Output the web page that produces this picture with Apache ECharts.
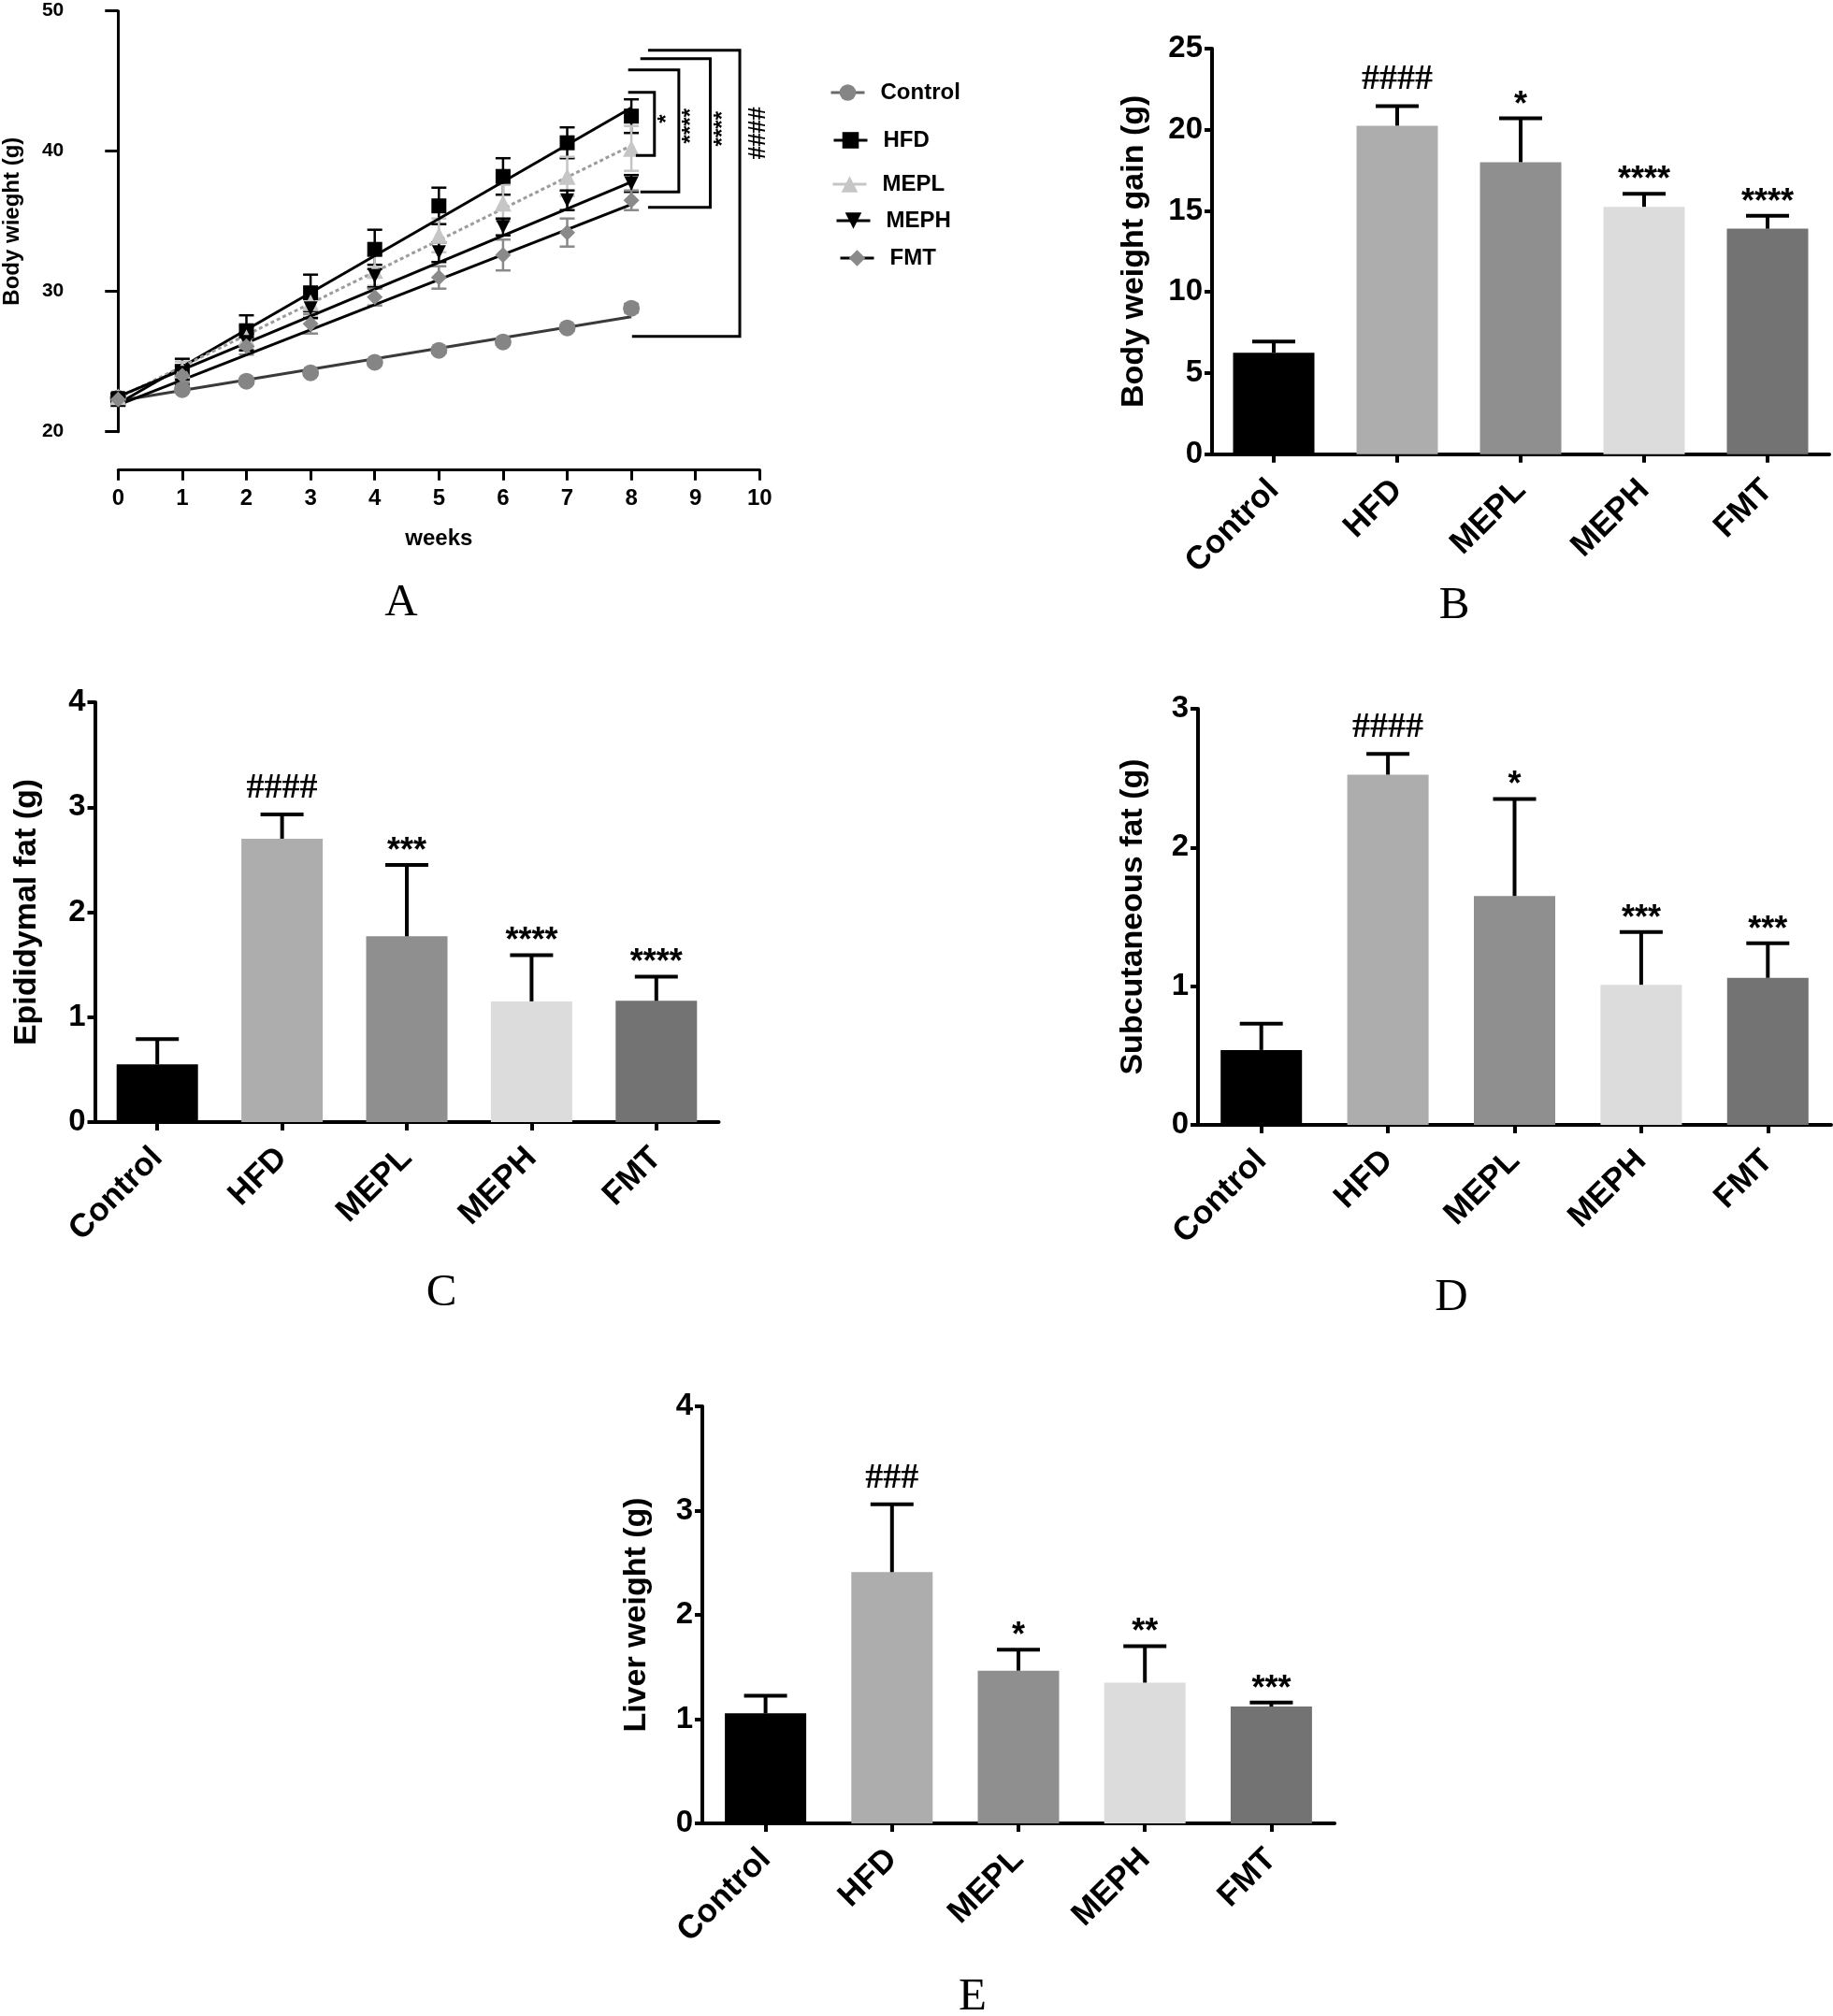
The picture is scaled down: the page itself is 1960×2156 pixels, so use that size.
<!DOCTYPE html>
<html><head><meta charset="utf-8">
<script src="https://cdn.jsdelivr.net/npm/echarts@6/dist/echarts.min.js"></script>
<style>html,body{margin:0;padding:0;background:#fff}#c{width:1960px;height:2156px}</style>
</head><body><div id="c"></div>
<script>
// ---------- Panel A : body weight over weeks ----------
const weeks    = [0, 1, 2, 3, 4, 5, 6, 7, 8];
const ctrlMean = [22.4, 23.0, 23.6, 24.2, 24.95, 25.8, 26.4, 27.4, 28.8];
const ctrlErr  = [0.2, 0.2, 0.2, 0.2, 0.2, 0.2, 0.2, 0.2, 0.3];
const hfdMean  = [22.3, 24.3, 27.2, 29.9, 33.0, 36.1, 38.2, 40.6, 42.5];
const hfdErr   = [0.3, 0.9, 1.1, 1.3, 1.4, 1.3, 1.3, 1.1, 1.2];
const meplMean = [22.5, 24.4, 26.7, 29.2, 31.5, 34.0, 36.3, 38.2, 40.2];
const meplErr  = [0.3, 0.6, 0.8, 1.0, 1.1, 1.2, 1.3, 1.4, 1.6];
const mephMean = [22.4, 24.2, 26.4, 28.8, 31.1, 32.8, 34.6, 36.5, 37.7];
const mephErr  = [0.3, 0.5, 0.6, 0.7, 0.8, 0.7, 0.6, 0.7, 0.6];
const fmtMean  = [22.3, 24.0, 26.1, 27.7, 29.6, 31.0, 32.6, 34.2, 36.5];
const fmtErr   = [0.3, 0.5, 0.6, 0.7, 0.6, 0.8, 1.1, 1.0, 0.7];
// fitted trend lines, read at week 0 and week 8
const fitWeeks = [0, 8];
const ctrlFit  = [22.2, 28.2];
const hfdFit   = [22.0, 43.1];
const meplFit  = [22.4, 40.4];
const mephFit  = [22.5, 37.8];
const fmtFit   = [21.9, 36.2];
// significance brackets at week 8 (week / body-weight units)
const bracketTopStart    = [7.95, 7.95, 8.14, 8.26];
const bracketX           = [8.36, 8.74, 9.23, 9.69];
const bracketTop         = [44.2, 45.8, 46.6, 47.2];
const bracketBottom      = [39.7, 37.1, 36.0, 26.8];
const bracketBottomStart = [8.07, 8.14, 8.26, 8.01];
const bracketLabel       = ['*', '****', '****', '####'];
const bracketLabelY      = [42.3, 41.8, 41.6, 41.3];
const weekTicks = [0, 10, 1];      // min, max, step
const bwTicks   = [20, 50, 10];

// ---------- Panels B-E : bar charts ----------
const groups   = ['Control', 'HFD', 'MEPL', 'MEPH', 'FMT'];
const gainMean = [6.25, 20.25, 18.0, 15.25, 13.9];
const gainErr  = [0.7, 1.2, 2.7, 0.8, 0.8];
const gainSig  = ['', '####', '*', '****', '****'];
const epiMean  = [0.55, 2.70, 1.77, 1.15, 1.155];
const epiErr   = [0.24, 0.23, 0.68, 0.44, 0.23];
const epiSig   = ['', '####', '***', '****', '****'];
const subMean  = [0.54, 2.525, 1.65, 1.01, 1.06];
const subErr   = [0.19, 0.15, 0.70, 0.38, 0.25];
const subSig   = ['', '####', '*', '***', '***'];
const livMean  = [1.055, 2.41, 1.465, 1.35, 1.12];
const livErr   = [0.17, 0.65, 0.20, 0.35, 0.04];
const livSig   = ['', '###', '*', '**', '***'];
const gainTicks = [0, 25, 5];
const epiTicks  = [0, 4, 1];
const subTicks  = [0, 3, 1];
const livTicks  = [0, 4, 1];

// ---------- styles ----------
const SANS = '"Liberation Sans", Arial, sans-serif';
const SERIF = '"Liberation Serif", "Times New Roman", serif';
const barColors = ['#000000', '#adadad', '#8f8f8f', '#dcdcdc', '#737373'];
const INV_TRI = 'path://M0,0 L10,0 L5,10 Z';

const chart = echarts.init(document.getElementById('c'), null, {renderer: 'canvas'});

const grids = [
  {left: 126.3, top: 11.7, width: 686, height: 450},
  {left: 1296, top: 52, width: 660, height: 433.7},
  {left: 101.5, top: 751, width: 667, height: 449},
  {left: 1281, top: 758, width: 677, height: 445},
  {left: 751, top: 1504, width: 676, height: 446}
];

function barX(gi) {
  return {type: 'category', gridIndex: gi, data: groups, boundaryGap: true,
    axisLine: {show: true, lineStyle: {color: '#000', width: 4}},
    axisTick: {show: true, alignWithLabel: true, interval: 0, length: 9, lineStyle: {color: '#000', width: 4}},
    axisLabel: {rotate: 45, interval: 0, margin: 33, fontSize: 35, fontWeight: 'bold', fontFamily: SANS, color: '#000'},
    splitLine: {show: false}};
}
function barY(gi, ticks, name, gap) {
  return {type: 'value', gridIndex: gi, min: ticks[0], max: ticks[1], interval: ticks[2],
    name: name, nameLocation: 'middle', nameGap: gap,
    nameTextStyle: {fontSize: 34, fontWeight: 'bold', fontFamily: SANS, color: '#000'},
    axisLine: {show: true, lineStyle: {color: '#000', width: 4}},
    axisTick: {show: true, length: 8, lineStyle: {color: '#000', width: 4}},
    axisLabel: {margin: 10, fontSize: 33, fontWeight: 'bold', fontFamily: SANS, color: '#000'},
    splitLine: {show: false}};
}
function barSeries(gi, mean) {
  return {type: 'bar', xAxisIndex: gi, yAxisIndex: gi, barWidth: 87, z: 2,
    data: mean.map((v, i) => ({value: v, itemStyle: {color: barColors[i]}}))};
}
function barErrSeries(gi, mean, err, sig) {
  return {type: 'custom', xAxisIndex: gi, yAxisIndex: gi, z: 5,
    data: mean.map((m, i) => [i, m, err[i]]),
    renderItem: (params, api) => {
      const i = api.value(0), m = api.value(1), e = api.value(2);
      const b = api.coord([i, m]), t = api.coord([i, m + e]);
      const s = sig[params.dataIndex];
      const st = {stroke: '#000', lineWidth: 4};
      const ch = [
        {type: 'line', shape: {x1: b[0], y1: b[1], x2: t[0], y2: t[1]}, style: st},
        {type: 'line', shape: {x1: t[0] - 23, y1: t[1], x2: t[0] + 23, y2: t[1]}, style: st}
      ];
      if (s) {
        const hash = s[0] === '#';
        ch.push({type: 'text', x: t[0], y: t[1] - (hash ? 28 : 14),
          style: {text: s, align: 'center', verticalAlign: 'middle', fontSize: hash ? 38 : 36,
            fontFamily: hash ? SERIF : SANS, fontWeight: 'bold', fill: '#000'}});
      }
      return {type: 'group', children: ch};
    }};
}

// line-chart helpers
function markerSeries(name, mean, symbol, size, color, lineColor) {
  return {type: 'line', name: name, xAxisIndex: 0, yAxisIndex: 0, z: 6,
    data: weeks.map((w, i) => [w, mean[i]]),
    symbol: symbol, symbolSize: size, showAllSymbol: true,
    itemStyle: {color: color, borderWidth: 0},
    lineStyle: {color: lineColor, width: 3, opacity: 0},
    emphasis: {disabled: true}};
}
function fitSeries(fit, color, type) {
  return {type: 'line', xAxisIndex: 0, yAxisIndex: 0, z: 4, showSymbol: false, symbol: 'none',
    data: fitWeeks.map((w, i) => [w, fit[i]]),
    lineStyle: {color: color, width: 3, type: type || 'solid'}, emphasis: {disabled: true}};
}
function lineErrSeries(mean, err, color) {
  return {type: 'custom', xAxisIndex: 0, yAxisIndex: 0, z: 3,
    data: weeks.map((w, i) => [w, mean[i], err[i]]),
    renderItem: (params, api) => {
      const x = api.value(0), m = api.value(1), e = api.value(2);
      const hi = api.coord([x, m + e]), lo = api.coord([x, m - e]);
      const st = {stroke: color, lineWidth: 2.5};
      return {type: 'group', children: [
        {type: 'line', shape: {x1: hi[0], y1: hi[1], x2: lo[0], y2: lo[1]}, style: st},
        {type: 'line', shape: {x1: hi[0] - 8, y1: hi[1], x2: hi[0] + 8, y2: hi[1]}, style: st},
        {type: 'line', shape: {x1: lo[0] - 8, y1: lo[1], x2: lo[0] + 8, y2: lo[1]}, style: st}
      ]};
    }};
}

const legendPos = [
  {name: 'Control', left: 887, top: 87},
  {name: 'HFD', left: 890, top: 138},
  {name: 'MEPL', left: 889, top: 185},
  {name: 'MEPH', left: 893, top: 224},
  {name: 'FMT', left: 897, top: 264}
];

const option = {
  animation: false,
  backgroundColor: '#fff',
  grid: grids,
  legend: legendPos.map(it => ({
    data: [it.name], left: it.left, top: it.top, padding: 0, orient: 'vertical',
    itemWidth: 36, itemHeight: 22, selectedMode: false,
    lineStyle: {opacity: 1, width: 3},
    textStyle: {fontSize: 24, fontWeight: 'bold', fontFamily: SANS, color: '#000', padding: [0, 0, 0, 12]}
  })),
  xAxis: [
    {type: 'value', gridIndex: 0, min: weekTicks[0], max: weekTicks[1], interval: weekTicks[2], offset: 41,
      name: 'weeks', nameLocation: 'middle', nameGap: 62,
      nameTextStyle: {fontSize: 24, fontWeight: 'bold', fontFamily: SANS, color: '#000'},
      axisLine: {show: true, onZero: false, lineStyle: {color: '#000', width: 3}},
      axisTick: {show: true, length: 11, lineStyle: {color: '#000', width: 3}},
      axisLabel: {margin: 19, fontSize: 24, fontWeight: 'bold', fontFamily: SANS, color: '#000'},
      splitLine: {show: false}},
    barX(1), barX(2), barX(3), barX(4)
  ],
  yAxis: [
    {type: 'value', gridIndex: 0, min: bwTicks[0], max: bwTicks[1], interval: bwTicks[2], offset: 41,
      name: 'Body wieght (g)', nameLocation: 'middle', nameGap: 60,
      nameTextStyle: {fontSize: 24, fontWeight: 'bold', fontFamily: SANS, color: '#000'},
      axisLine: {show: true, lineStyle: {color: '#000', width: 3}},
      axisTick: {show: true, length: 14, lineStyle: {color: '#000', width: 3}},
      axisLabel: {margin: 17, fontSize: 21, fontWeight: 'bold', fontFamily: SANS, color: '#000'},
      splitLine: {show: false}},
    barY(1, gainTicks, 'Body weight gain (g)', 66),
    barY(2, epiTicks, 'Epididymal fat (g)', 56),
    barY(3, subTicks, 'Subcutaneous fat (g)', 52),
    barY(4, livTicks, 'Liver weight (g)', 53)
  ],
  series: [
    fitSeries(ctrlFit, '#3a3a3a'),
    fitSeries(hfdFit, '#000'),
    fitSeries(meplFit, '#9c9c9c', [4, 3]),
    fitSeries(mephFit, '#000'),
    fitSeries(fmtFit, '#000'),
    lineErrSeries(ctrlMean, ctrlErr, '#888'),
    lineErrSeries(hfdMean, hfdErr, '#000'),
    lineErrSeries(meplMean, meplErr, '#c4c4c4'),
    lineErrSeries(mephMean, mephErr, '#000'),
    lineErrSeries(fmtMean, fmtErr, '#8a8a8a'),
    markerSeries('Control', ctrlMean, 'circle', 18, '#858585', '#6a6a6a'),
    markerSeries('HFD', hfdMean, 'rect', 16, '#000', '#000'),
    markerSeries('MEPL', meplMean, 'triangle', 18, '#c6c6c6', '#c6c6c6'),
    markerSeries('MEPH', mephMean, INV_TRI, 15, '#000', '#000'),
    markerSeries('FMT', fmtMean, 'diamond', 17, '#8a8a8a', '#000'),
    {type: 'custom', xAxisIndex: 0, yAxisIndex: 0, z: 7,
      data: bracketX.map((x, i) => [x, bracketTop[i], bracketBottom[i], bracketTopStart[i], bracketBottomStart[i], bracketLabelY[i]]),
      renderItem: (p, api) => {
        const x = api.value(0), top = api.value(1), bot = api.value(2);
        const ts = api.value(3), bs = api.value(4), ly = api.value(5);
        const pts = [api.coord([ts, top]), api.coord([x, top]), api.coord([x, bot]), api.coord([bs, bot])];
        const lab = bracketLabel[p.dataIndex];
        const hash = lab[0] === '#';
        const lp = api.coord([x, ly]);
        return {type: 'group', children: [
          {type: 'polyline', shape: {points: pts}, style: {stroke: '#000', lineWidth: 3, fill: 'none'}},
          {type: 'text', x: lp[0] + (hash ? 20 : 14), y: lp[1], rotation: Math.PI / 2,
            style: {text: lab, align: 'center', verticalAlign: 'middle', fontSize: hash ? 28 : 24,
              fontFamily: hash ? SERIF : SANS, fontWeight: 'bold', fill: '#000'}}
        ]};
      }},
    barSeries(1, gainMean), barErrSeries(1, gainMean, gainErr, gainSig),
    barSeries(2, epiMean), barErrSeries(2, epiMean, epiErr, epiSig),
    barSeries(3, subMean), barErrSeries(3, subMean, subErr, subSig),
    barSeries(4, livMean), barErrSeries(4, livMean, livErr, livSig)
  ],
  graphic: [['A', 429, 645], ['B', 1555, 648], ['C', 472, 1383], ['D', 1552, 1388], ['E', 1040, 2136]].map(
    ([t, x, y]) => ({type: 'text', x: x, y: y, silent: true,
      style: {text: t, fontSize: 49, fontFamily: SERIF, fill: '#000', align: 'center', verticalAlign: 'middle'}}))
};
chart.setOption(option);
</script>
</body></html>
